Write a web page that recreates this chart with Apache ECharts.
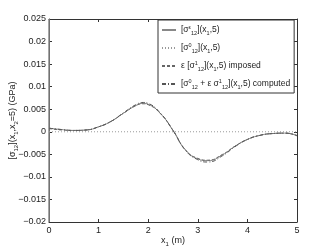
<!DOCTYPE html>
<html><head><meta charset="utf-8">
<script src="https://cdn.jsdelivr.net/npm/echarts@6/dist/echarts.min.js"></script>
<style>html,body{margin:0;padding:0;background:#fff}#c{width:329px;height:251px}</style>
</head><body><div id="c"></div>
<script>
var xTicks = [0, 1, 2, 3, 4, 5];
var yTicks = [-0.02, -0.015, -0.01, -0.005, 0, 0.005, 0.01, 0.015, 0.02, 0.025];
var xs = [0, 0.25, 0.5, 0.75, 1.0, 1.25, 1.5, 1.75, 1.9, 2.0, 2.25, 2.5, 2.75, 3.0, 3.2, 3.5, 3.75, 4.0, 4.25, 4.5, 4.75, 4.9, 5.0];
var sigmaE = [0.0008, 0.0005, 0.0003, 0.0004, 0.0011, 0.0023, 0.0041, 0.0058, 0.0063, 0.0061, 0.0040, 0.0003, -0.0040, -0.0060, -0.0064, -0.0051, -0.0032, -0.0017, -0.0008, -0.0004, -0.0003, -0.0005, -0.0009];
var sigma0 = [0, 0, 0, 0, 0, 0, 0, 0, 0, 0, 0, 0, 0, 0, 0, 0, 0, 0, 0, 0, 0, 0, 0];
var sigma1 = [0.0007, 0.0004, 0.0003, 0.0004, 0.0011, 0.0023, 0.0041, 0.0058, 0.0062, 0.0060, 0.0040, 0.0003, -0.0040, -0.0059, -0.0063, -0.0050, -0.0032, -0.0017, -0.0008, -0.0004, -0.0003, -0.0005, -0.0008];
var sigmaC = [0.0008, 0.0005, 0.0003, 0.0004, 0.0011, 0.0023, 0.0042, 0.0060, 0.0065, 0.0063, 0.0041, 0.0003, -0.0041, -0.0062, -0.0067, -0.0053, -0.0033, -0.0017, -0.0008, -0.0004, -0.0003, -0.0005, -0.0009];
var spikeX = [0, 0];
var spikeY = [0.025, -0.02];

function pairs(x, y) { return x.map(function (v, i) { return [v, y[i]]; }); }
function fmtY(v) { var s = String(Number(v.toFixed(3))); return s.replace('-', '\u2212'); }

var names = ['E', 'Z', 'I', 'C'];
var txtStyle = {
  fontFamily: 'Liberation Sans', fontSize: 8.5, color: '#222',
  rich: {
    s: { fontSize: 5.5, verticalAlign: 'top', padding: [0, 0, 6, 0], color: '#222', fontFamily: 'Liberation Sans' },
    b: { fontSize: 5.5, verticalAlign: 'bottom', padding: [5, 0, 0, 0], color: '#222', fontFamily: 'Liberation Sans' }
  }
};
var legendText = {
  E: '[\u03c3{s|\u03b5}{b|12}](x{b|1},5)',
  Z: '[\u03c3{s|0}{b|12}](x{b|1},5)',
  I: '\u03b5 [\u03c3{s|1}{b|12}](x{b|1},5) imposed',
  C: '[\u03c3{s|0}{b|12} + \u03b5 \u03c3{s|1}{b|12}](x{b|1},5) computed'
};
var axisCommon = {
  axisLine: { onZero: false, lineStyle: { color: '#333', width: 1 } },
  splitLine: { show: false }
};
var tick = { inside: true, length: 3, lineStyle: { color: '#333' } };
var option = {
  animation: false,
  grid: { left: 49, top: 19, right: 32, bottom: 29, show: false, outerBoundsMode: 'none', containLabel: false },
  xAxis: [
    Object.assign({ type: 'value', min: 0, max: 5, interval: 1, position: 'bottom',
      axisTick: tick,
      axisLabel: { fontFamily: 'Liberation Sans', fontSize: 9, color: '#222', margin: 4 },
      name: 'x{b|1} (m)', nameLocation: 'middle', nameGap: 13, nameMoveOverlap: false,
      nameTextStyle: { fontFamily: 'Liberation Sans', fontSize: 9, color: '#222',
        rich: { b: { fontSize: 6, verticalAlign: 'bottom', padding: [6, 0, 0, 0], fontFamily: 'Liberation Sans', color: '#222' } } }
    }, axisCommon),
    Object.assign({ type: 'value', min: 0, max: 5, interval: 1, position: 'top',
      axisTick: tick, axisLabel: { show: false } }, axisCommon)
  ],
  yAxis: [
    Object.assign({ type: 'value', min: -0.02, max: 0.025, interval: 0.005, position: 'left',
      axisTick: tick,
      axisLabel: { fontFamily: 'Liberation Sans', fontSize: 9, color: '#222', margin: 3, formatter: fmtY },
      name: '[\u03c3{b|12}](x{b|1},x{b|2}=5) (GPa)', nameLocation: 'middle', nameGap: 30, nameRotate: 90, nameMoveOverlap: false,
      nameTextStyle: { fontFamily: 'Liberation Sans', fontSize: 9, color: '#222',
        rich: { b: { fontSize: 6, verticalAlign: 'bottom', padding: [6, 0, 0, 0], fontFamily: 'Liberation Sans', color: '#222' } } }
    }, axisCommon),
    Object.assign({ type: 'value', min: -0.02, max: 0.025, interval: 0.005, position: 'right',
      axisTick: tick, axisLabel: { show: false } }, axisCommon)
  ],
  legend: {
    data: names, orient: 'vertical', left: 158, top: 20,
    padding: [4, 4, 3, 3], itemGap: 6, itemWidth: 14, itemHeight: 12,
    backgroundColor: '#fff', borderColor: '#333', borderWidth: 1, borderRadius: 0,
    itemStyle: { opacity: 0 },
    formatter: function (n) { return legendText[n]; },
    textStyle: txtStyle
  },
  series: [
    { name: 'E', type: 'line', data: pairs(xs, sigmaE), smooth: true, symbol: 'none',
      lineStyle: { color: '#888', width: 1, type: 'solid' }, itemStyle: { color: '#888' }, z: 3 },
    { name: 'Z', type: 'line', data: pairs(xs, sigma0), symbol: 'none',
      lineStyle: { color: '#999', width: 1, type: [1, 2] }, itemStyle: { color: '#999' }, z: 2 },
    { name: 'I', type: 'line', data: pairs(xs, sigma1), smooth: true, symbol: 'none',
      lineStyle: { color: '#666', width: 1, type: [3, 2] }, itemStyle: { color: '#666' }, z: 4 },
    { name: 'C', type: 'line', data: pairs(xs, sigmaC), smooth: true, symbol: 'none',
      lineStyle: { color: '#555', width: 1, type: [4, 2, 1, 2] }, itemStyle: { color: '#555' }, z: 5 },
    { name: 'E', type: 'line', data: pairs(spikeX, spikeY), symbol: 'none',
      lineStyle: { color: '#888', width: 1.5 }, z: 1 }
  ]
};
var chart = echarts.init(document.getElementById('c'), null, { renderer: 'canvas' });
chart.setOption(option);
</script></body></html>
